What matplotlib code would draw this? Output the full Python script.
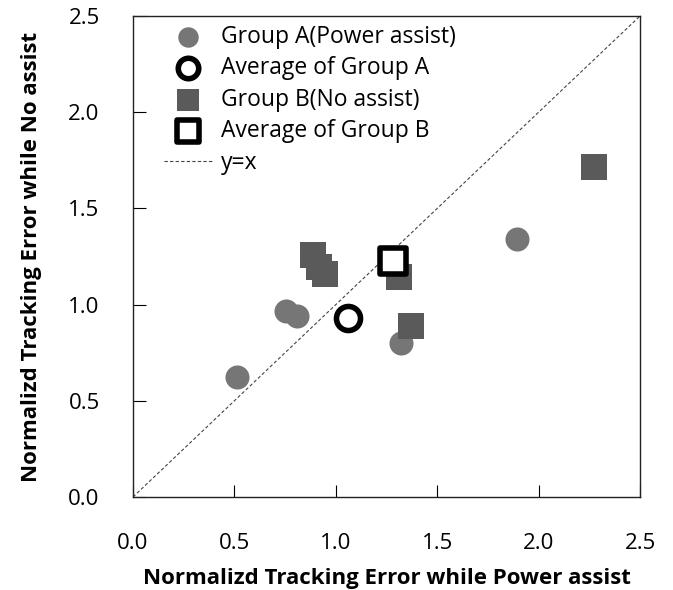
import matplotlib
matplotlib.use("Agg")
import matplotlib.pyplot as plt

# Data
groupA_x = [0.514, 0.754, 0.807, 1.323, 1.895]
groupA_y = [0.625, 0.967, 0.941, 0.799, 1.341]
avgA_x = [1.060]
avgA_y = [0.930]
groupB_x = [0.886, 0.917, 0.945, 1.313, 1.372, 2.272]
groupB_y = [1.258, 1.194, 1.157, 1.145, 0.890, 1.717]
avgB_x = [1.284]
avgB_y = [1.228]
line_xy = [0.0, 2.5]
ticks = [0.0, 0.5, 1.0, 1.5, 2.0, 2.5]

plt.rcParams['font.family'] = ['Open Sans', 'DejaVu Sans']

fig = plt.figure(figsize=(6.73, 5.90), dpi=100)
ax = fig.add_axes([0.1976, 0.1576, 0.7534, 0.8153])

ax.plot(line_xy, line_xy, linestyle=(0, (3, 2)), color='#444444', linewidth=0.8,
        label='y=x', zorder=1)
ax.scatter(groupA_x, groupA_y, s=300, marker='o', color='#767676',
           label='Group A(Power assist)', zorder=3, linewidths=0)
ax.scatter(avgA_x, avgA_y, s=300, marker='o', facecolors='white',
           edgecolors='black', linewidths=4, label='Average of Group A', zorder=4)
ax.scatter(groupB_x, groupB_y, s=330, marker='s', color='#5a5a5a',
           label='Group B(No assist)', zorder=3, linewidths=0)
ax.scatter(avgB_x, avgB_y, s=330, marker='s', facecolors='white',
           edgecolors='black', linewidths=4, label='Average of Group B', zorder=5)

ax.set_xlim(0, 2.5)
ax.set_ylim(0, 2.5)
ax.set_xticks(ticks)
ax.set_yticks(ticks)
ax.set_xticklabels([f"{t:.1f}" for t in ticks])
ax.set_yticklabels([f"{t:.1f}" for t in ticks])
ax.tick_params(axis='x', direction='in', length=9, labelsize=16, pad=26, width=0.8)
ax.tick_params(axis='y', direction='in', length=9, labelsize=16, pad=24, width=0.8)
for s in ax.spines.values():
    s.set_linewidth(1.0)
    s.set_color('#222222')

ax.set_xlabel('Normalizd Tracking Error while Power assist', fontsize=16,
              fontweight='bold', labelpad=10)
ax.set_ylabel('Normalizd Tracking Error while No assist', fontsize=16,
              fontweight='bold', labelpad=19)

handles, labels = ax.get_legend_handles_labels()
order = [1, 2, 3, 4, 0]
leg = ax.legend([handles[i] for i in order], [labels[i] for i in order],
                loc='upper left', frameon=False, fontsize=16.5,
                bbox_to_anchor=(0.02, 1.025), handlelength=2.1,
                labelspacing=0.33, markerscale=0.85, handletextpad=0.4)

fig.savefig('out.png', dpi=100)
